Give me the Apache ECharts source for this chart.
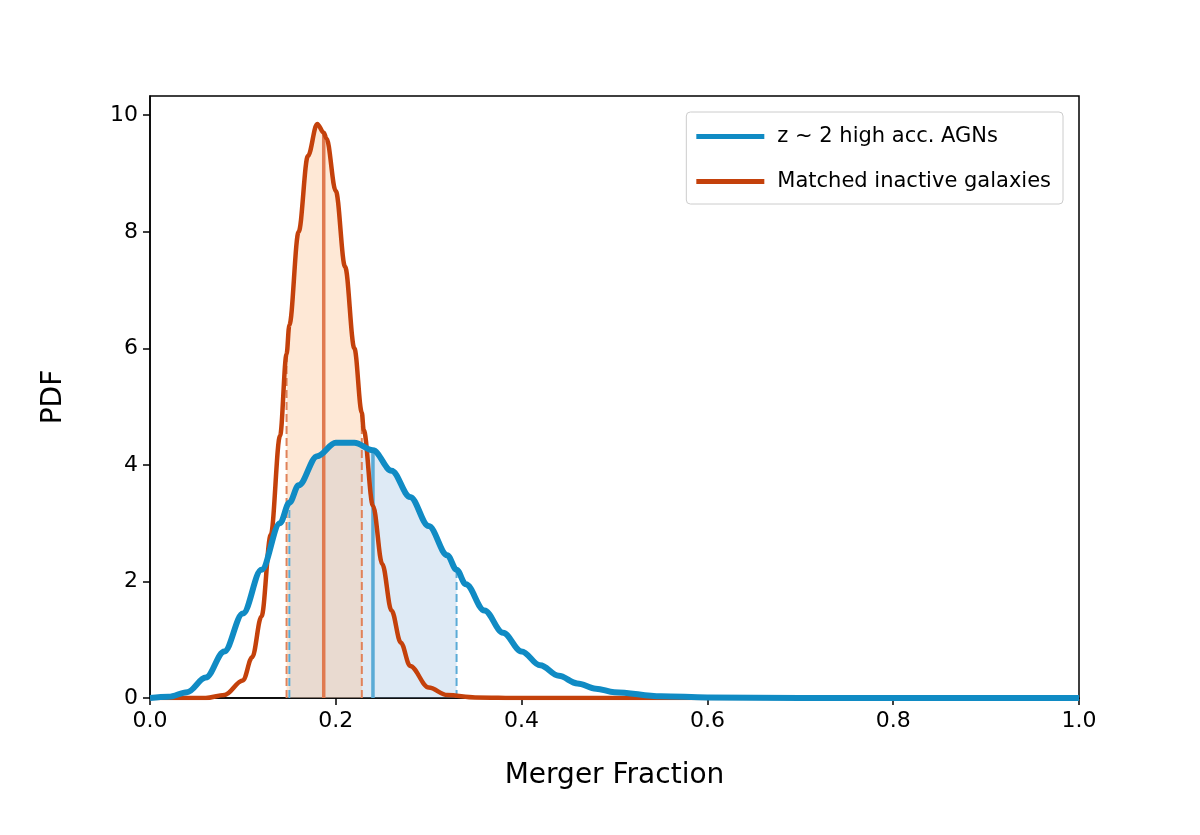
<!DOCTYPE html>
<html><head><meta charset="utf-8">
<script src="https://cdn.jsdelivr.net/npm/echarts@6/dist/echarts.min.js"></script>
<style>html,body{margin:0;background:#fff}#c{width:1200px;height:835px}</style>
</head><body><div id="c"></div>
<script>
const blueX = [0,0.02,0.04,0.06,0.08,0.10,0.12,0.14,0.15,0.16,0.18,0.20,0.22,0.24,0.26,0.28,0.30,0.32,0.33,0.34,0.36,0.38,0.40,0.42,0.44,0.46,0.48,0.50,0.55,0.60,0.70,1.0];
const blueY = [0,0.02,0.1,0.35,0.8,1.45,2.2,3.0,3.35,3.65,4.15,4.38,4.38,4.25,3.9,3.45,2.95,2.45,2.2,1.95,1.5,1.12,0.8,0.56,0.38,0.25,0.16,0.1,0.03,0.01,0,0];
const orangeX = [0,0.06,0.08,0.10,0.11,0.12,0.13,0.14,0.147,0.15,0.16,0.17,0.18,0.187,0.19,0.20,0.21,0.22,0.228,0.23,0.24,0.25,0.26,0.27,0.28,0.30,0.32,0.35,0.40,1.0];
const orangeY = [0,0,0.05,0.3,0.7,1.4,2.8,4.5,5.9,6.4,8.0,9.3,9.85,9.7,9.6,8.7,7.4,6.0,4.9,4.6,3.3,2.3,1.5,0.95,0.55,0.18,0.05,0.01,0,0];
const blueBounds = [0.15,0.24,0.33];   // lo, median, hi
const orangeBounds = [0.147,0.187,0.228];
const yTicks = [0,2,4,6,8,10];
const xTicks = [0,0.2,0.4,0.6,0.8,1.0];

const pairs=(xs,ys)=>xs.map((x,i)=>[x,ys[i]]);
const blue=pairs(blueX,blueY), orange=pairs(orangeX,orangeY);
const inRange=(d,b)=>d.filter(p=>p[0]>=b[0]-1e-9&&p[0]<=b[2]+1e-9);
const at=(d,x)=>d.find(p=>Math.abs(p[0]-x)<1e-9)[1];
const vline=(d,x,color,type,w)=>({type:'line',data:[[x,0],[x,at(d,x)]],showSymbol:false,silent:true,
  lineStyle:{color,type,width:w},z:3});
const BLUE='#108bc4', ORANGE='#c4410b';
const sm={smooth:0.35,smoothMonotone:'x'};
const series=[
 Object.assign({type:'line',data:inRange(blue,blueBounds),showSymbol:false,lineStyle:{width:0},areaStyle:{color:'rgba(150,190,222,0.45)'},z:1},sm),
 Object.assign({type:'line',data:inRange(orange,orangeBounds),showSymbol:false,lineStyle:{width:0},areaStyle:{color:'rgba(253,190,140,0.5)'},z:1},sm),
 vline(orange,orangeBounds[0],'#e0825a','dashed',2),
 vline(orange,orangeBounds[2],'#e0825a','dashed',2),
 vline(orange,orangeBounds[1],'#e07a50','solid',3.5),
 vline(blue,blueBounds[0],'#5aabd6','dashed',2),
 vline(blue,blueBounds[2],'#5aabd6','dashed',2),
 vline(blue,blueBounds[1],'#5aabd6','solid',3.5),
 Object.assign({name:'Matched inactive galaxies',type:'line',data:orange,showSymbol:false,lineStyle:{color:ORANGE,width:4.5},itemStyle:{color:ORANGE},z:4},sm),
 Object.assign({name:'z ~ 2 high acc. AGNs',type:'line',data:blue,showSymbol:false,lineStyle:{color:BLUE,width:6},itemStyle:{color:BLUE},z:5},sm),
];
const chart=echarts.init(document.getElementById('c'));
const font={fontFamily:'DejaVu Sans',fontSize:22,color:'#000'};
chart.setOption({
 animation:false,
 grid:{left:150,right:121,top:96,bottom:137,show:true,borderColor:'#000',borderWidth:1.5},
 legend:{data:['z ~ 2 high acc. AGNs','Matched inactive galaxies'],orient:'vertical',right:137,top:112,
  icon:'rect',itemWidth:68,itemHeight:5,itemGap:24,padding:[14,12,12,10],
  borderColor:'#ccc',borderWidth:1,borderRadius:4,textStyle:{fontFamily:'DejaVu Sans',fontSize:21,color:'#000',padding:[0,0,0,8]}},
 xAxis:{type:'value',min:0,max:1,interval:0.2,name:'Merger Fraction',nameLocation:'middle',nameGap:64,
  nameTextStyle:{fontFamily:'DejaVu Sans',fontSize:28,color:'#000'},
  axisLine:{show:true,onZero:false,lineStyle:{color:'#000',width:1.5}},axisTick:{show:true,length:7,lineStyle:{color:'#000',width:1.5}},
  splitLine:{show:false},axisLabel:Object.assign({margin:12,formatter:v=>v.toFixed(1)},font)},
 yAxis:{type:'value',min:0,max:10.33,name:'PDF',nameLocation:'middle',nameGap:82,
  nameTextStyle:{fontFamily:'DejaVu Sans',fontSize:28,color:'#000'},
  axisLine:{show:true,lineStyle:{color:'#000',width:1.5}},
  axisTick:{show:true,length:7,customValues:yTicks,lineStyle:{color:'#000',width:1.5}},
  splitLine:{show:false},axisLabel:Object.assign({margin:12,customValues:yTicks,formatter:v=>String(v)},font)},
 series
});
</script></body></html>
